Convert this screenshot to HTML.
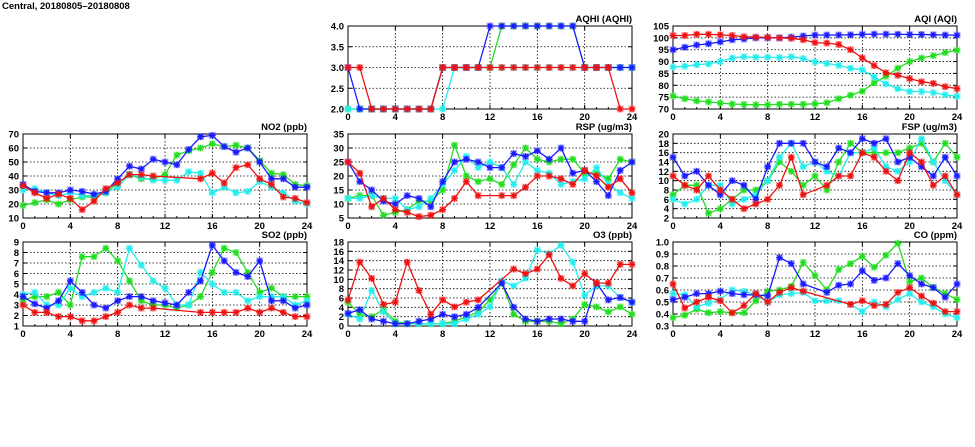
<!DOCTYPE html>
<html><head><meta charset="utf-8"><style>
html,body{margin:0;padding:0;background:#fff;width:975px;height:447px;overflow:hidden}
svg{display:block}
text{font-family:"Liberation Sans",sans-serif;font-weight:bold;font-size:9.5px;fill:#000}
</style></head><body>
<svg id="chart" width="975" height="447" viewBox="0 0 975 447">
<text x="2" y="9" font-size="10">Central, 20180805–20180808</text>
</svg>
<script>
const hours = [0,1,2,3,4,5,6,7,8,9,10,11,12,13,14,15,16,17,18,19,20,21,22,23,24];
const xTicks = [0,4,8,12,16,20,24];
const seriesNames = ['green','cyan','blue','red'];
const seriesColors = ['#20dd20','#20eeee','#1a1aff','#ee1111'];

const aqhiGreen = [2,2,2,2,2,2,2,2,3,3,3,3,3,4,4,4,4,4,4,4,3,3,3,3,3];
const aqhiCyan  = [2,2,2,2,2,2,2,2,2,3,3,3,3,3,3,3,3,3,3,3,3,3,3,3,3];
const aqhiBlue  = [3,2,2,2,2,2,2,2,3,3,3,3,4,4,4,4,4,4,4,4,3,3,3,3,3];
const aqhiRed   = [3,3,2,2,2,2,2,2,3,3,3,3,3,3,3,3,3,3,3,3,3,3,3,2,2];
const aqhiTicks = [2.0,2.5,3.0,3.5,4.0];

const aqiGreen = [75.5,74.3,73.4,73,72.5,72.1,71.9,71.8,71.8,72,72,72,72.2,72.6,74.3,75.8,77.5,81,83.8,87.2,90,91.5,92.5,93.8,94.8];
const aqiCyan  = [87.7,88,88.7,89,90,91.5,92,91.8,91.8,91.7,92,91.3,89.8,89.2,88.4,87.2,86.5,83.5,80.6,78.5,77.4,77.4,76.9,76,75.3];
const aqiBlue  = [95,96,97,97.5,98.3,99.2,99.5,100,100,100,100.3,100.8,101.2,101.2,101.2,101.3,101.5,101.6,101.6,101.5,101.4,101.4,101.3,101.2,101.1];
const aqiRed   = [101,101,101.5,101.5,101.3,101,100.5,100.3,100.2,100,99.8,99.2,98,97.8,97.2,95,91.5,88.3,85.3,84.2,82.8,81.5,80.8,79.4,78.6];
const aqiTicks = [70,75,80,85,90,95,100,105];

const no2Green = [19,21,23,20,23,25,25,28,35,41,38,38,41,55,58,60,63,61,62,60,51,42,41,34,33];
const no2Cyan  = [30,31,28,26,28,26,26,28,32,41,39,37,37,37,43,42,28,32,28,29,36,32,28,22,20];
const no2Blue  = [34,29,28,28,30,29,27,29,38,47,45,52,50,48,59,68,69,61,57,60,50,38,38,32,32];
const no2Red   = [33,28,24,27,24,16,22,31,35,41,41,40,null,null,null,38,42,35,46,48,38,34,25,24,21];
const no2Ticks = [10,20,30,40,50,60,70];

const rspGreen = [12,13,13,6,7,8,11,11,15,31,20,18,19,17,24,30,26,25,26,26,21,21,19,26,25];
const rspCyan  = [12,12,13,12,12,8,9,12,17,22,27,23,25,23,17,25,22,21,17,18,19,23,17,14,12];
const rspBlue  = [25,18,15,11,10,13,12,9,18,25,26,25,23,23,28,27,29,26,30,21,22,18,13,22,25];
const rspRed   = [25,21,9,12,8,7,5.5,6,8,12,18,13,null,13,13,16,20,20,19,17,22,20,16,19,14];
const rspTicks = [5,10,15,20,25,30,35];

const fspGreen = [7,9,9,3,4,6,8,8,10,14,12,9,11,8,14,18,16,16,16,16,17,18,14,18,15];
const fspCyan  = [6,5,6,9,9,5,6,7,10,15,18,13,14,12,11,16,16,17,13,12,14,19,14,10,7];
const fspBlue  = [15,11,12,9,7,10,9,6,13,18,18,18,14,13,17,16,19,18,19,14,15,13,11,15,11];
const fspRed   = [11,9,8,11,8,6,4,5,6,9,15,7,null,9,11,11,16,15,12,10,16,14,9,11,7];
const fspTicks = [2,4,6,8,10,12,14,16,18,20];

const so2Green = [3.5,3.8,3.8,4.2,3.0,7.6,7.6,8.4,7.2,5.3,3.4,3.0,3.0,2.7,3.0,3.8,6.1,8.4,8.0,6.1,4.2,4.6,3.8,3.8,3.8];
const so2Cyan  = [4.0,4.2,3.0,3.0,4.6,3.8,4.2,4.6,4.2,8.4,6.8,5.3,4.6,3.0,3.0,6.1,5.0,4.2,4.2,3.4,3.8,3.8,3.8,3.0,3.4];
const so2Blue  = [3.8,3.1,2.7,3.4,5.3,4.2,3.0,2.7,3.4,3.8,3.8,3.4,3.2,3.0,4.2,5.3,8.7,7.2,6.1,5.7,7.2,3.4,3.4,2.7,3.0];
const so2Red   = [3.0,2.3,2.3,1.9,1.9,1.5,1.5,1.9,2.3,3.0,2.7,2.7,null,null,null,2.3,2.3,2.3,2.3,2.7,2.3,2.7,2.3,1.9,1.9];
const so2Ticks = [1,2,3,4,5,6,7,8,9];

const o3Green = [5.1,2.5,2.0,3.5,1.0,0.5,0.5,0.5,0.5,1.0,2.0,3.0,5.6,9.2,2.5,1.0,1.0,1.0,0.5,1.5,4.6,4.1,3.0,4.1,2.5];
const o3Cyan  = [2.5,1.5,7.6,3.0,0.5,0.5,0.5,0.5,0.5,0.5,1.5,2.5,4.1,9.7,8.6,10.2,16.3,15.5,17.3,13.7,6.6,8.6,8.6,6.1,5.1];
const o3Blue  = [2.7,3.5,1.5,1.0,0.5,0.5,1.0,1.5,2.5,2.0,2.5,4.0,null,9.2,4.0,1.5,1.0,1.5,1.5,1.0,1.0,9.2,5.6,6.1,5.1];
const o3Red   = [5.6,13.7,10.2,4.6,5.1,13.7,7.6,2.5,5.6,4.1,5.1,5.6,null,null,12.2,11.2,12.2,15.3,10.2,8.6,11.2,9.2,9.2,13.2,13.2];
const o3Ticks = [0,2,4,6,8,10,12,14,16,18];

const coGreen = [0.37,0.39,0.44,0.41,0.42,0.41,0.41,0.51,0.59,0.60,0.63,0.83,0.72,0.60,0.77,0.82,0.88,0.79,0.89,0.99,0.67,0.70,0.62,0.57,0.52];
const coCyan  = [0.57,0.56,0.46,0.49,0.52,0.60,0.59,0.56,0.50,0.56,0.57,0.58,0.51,0.51,0.51,0.48,0.42,0.50,0.46,0.52,0.57,0.50,0.46,0.40,0.37];
const coBlue  = [0.52,0.54,0.57,0.57,0.59,0.57,0.56,0.56,0.55,0.87,0.82,0.65,null,0.58,0.64,0.65,0.76,0.68,0.70,0.82,0.72,0.65,0.62,0.54,0.65];
const coRed   = [0.65,0.45,0.50,0.54,0.51,0.41,0.47,0.57,0.50,0.58,0.62,0.59,null,null,null,0.48,0.51,0.47,0.48,0.58,0.62,0.55,0.49,0.42,0.42];
const coTicks = [0.3,0.4,0.5,0.6,0.7,0.8,0.9,1.0];

const NS='http://www.w3.org/2000/svg';
const svg=document.getElementById('chart');
function mk(tag,attrs,parent){const e=document.createElementNS(NS,tag);for(const k in attrs)e.setAttribute(k,attrs[k]);(parent||svg).appendChild(e);return e;}

const panels=[
 {key:'aqhi',title:'AQHI (AQHI)',x0:348,x1:632,y0:26,y1:109,ticks:aqhiTicks,dec:1,series:[aqhiGreen,aqhiCyan,aqhiBlue,aqhiRed]},
 {key:'aqi',title:'AQI (AQI)',x0:673,x1:957,y0:26,y1:109,ticks:aqiTicks,dec:0,series:[aqiGreen,aqiCyan,aqiBlue,aqiRed]},
 {key:'no2',title:'NO2 (ppb)',x0:23,x1:307,y0:134,y1:218,ticks:no2Ticks,dec:0,series:[no2Green,no2Cyan,no2Blue,no2Red]},
 {key:'rsp',title:'RSP (ug/m3)',x0:348,x1:632,y0:134,y1:218,ticks:rspTicks,dec:0,series:[rspGreen,rspCyan,rspBlue,rspRed]},
 {key:'fsp',title:'FSP (ug/m3)',x0:673,x1:957,y0:134,y1:218,ticks:fspTicks,dec:0,series:[fspGreen,fspCyan,fspBlue,fspRed]},
 {key:'so2',title:'SO2 (ppb)',x0:23,x1:307,y0:242,y1:326,ticks:so2Ticks,dec:0,series:[so2Green,so2Cyan,so2Blue,so2Red]},
 {key:'o3',title:'O3 (ppb)',x0:348,x1:632,y0:242,y1:326,ticks:o3Ticks,dec:0,series:[o3Green,o3Cyan,o3Blue,o3Red]},
 {key:'co',title:'CO (ppm)',x0:673,x1:957,y0:242,y1:326,ticks:coTicks,dec:1,series:[coGreen,coCyan,coBlue,coRed]}
];

panels.forEach(p=>{
  const g=mk('g',{});
  
  
  const ymin=p.ticks[0],ymax=p.ticks[p.ticks.length-1];
  const sx=v=>p.x0+(v-hours[0])/(hours[hours.length-1]-hours[0])*(p.x1-p.x0);
  const sy=v=>p.y1-(v-ymin)/(ymax-ymin)*(p.y1-p.y0);
  const clip=mk('clipPath',{id:'c-'+p.key},g);
  mk('rect',{x:p.x0-4,y:p.y0-4,width:p.x1-p.x0+8,height:p.y1-p.y0+8},clip);
  // grid
  p.ticks.forEach(t=>{
    const y=sy(t);
    if(t!==ymin&&t!==ymax){const l=mk('line',{x1:p.x0,x2:p.x1,y1:y,y2:y,stroke:'#000','stroke-width':0.8,'stroke-dasharray':'1.5,2'},g);
    
    }
    mk('line',{x1:p.x0,x2:p.x0+4,y1:y,y2:y,stroke:'#000'},g);
    mk('line',{x1:p.x1-4,x2:p.x1,y1:y,y2:y,stroke:'#000'},g);
    const tx=mk('text',{x:p.x0-4,y:y+3.5,'text-anchor':'end'},g);
    tx.textContent=t.toFixed(p.dec);
    
    
  });
  hours.forEach(h=>{
    const x=sx(h);
    mk('line',{x1:x,x2:x,y1:p.y1,y2:p.y1-2,stroke:'#000'},g);
  });
  xTicks.forEach(h=>{
    const x=sx(h);
    if(h!==hours[0]&&h!==hours[hours.length-1]){const l=mk('line',{x1:x,x2:x,y1:p.y0,y2:p.y1,stroke:'#000','stroke-width':0.8,'stroke-dasharray':'1.5,2'},g);
    
    }
    mk('line',{x1:x,x2:x,y1:p.y1,y2:p.y1-4,stroke:'#000'},g);
    mk('line',{x1:x,x2:x,y1:p.y0,y2:p.y0+4,stroke:'#000'},g);
    const tx=mk('text',{x:x,y:p.y1+11,'text-anchor':'middle'},g);
    tx.textContent=h;
    
    
  });
  const fr=mk('rect',{x:p.x0,y:p.y0,width:p.x1-p.x0,height:p.y1-p.y0,fill:'none',stroke:'#000','stroke-width':1},g);
  
  
  const tt=mk('text',{x:p.x1,y:p.y0-4,'text-anchor':'end'},g);
  tt.textContent=p.title;
  
  
  const sg=mk('g',{'clip-path':'url(#c-'+p.key+')'},g);
  p.series.forEach((vals,si)=>{
    const col=seriesColors[si];
    const pts=[];
    vals.forEach((v,i)=>{if(v!==null)pts.push([sx(hours[i]),sy(v)]);});
    const line=mk('polyline',{points:pts.map(q=>q[0].toFixed(1)+','+q[1].toFixed(1)).join(' '),fill:'none',stroke:col,'stroke-width':1.3},sg);
    
    
    pts.forEach(q=>{
      const m=mk('g',{transform:'translate('+q[0].toFixed(1)+','+q[1].toFixed(1)+')'},sg);
      
      
      mk('rect',{x:-3.5,y:-3.5,width:7,height:7,fill:col,opacity:0.3},m);
      mk('path',{d:'M-3.2,0h6.4M0,-3.2v6.4M-2.3,-2.3l4.6,4.6M-2.3,2.3l4.6,-4.6',stroke:col,'stroke-width':1.3},m);
    });
  });
});
</script>
</body></html>
